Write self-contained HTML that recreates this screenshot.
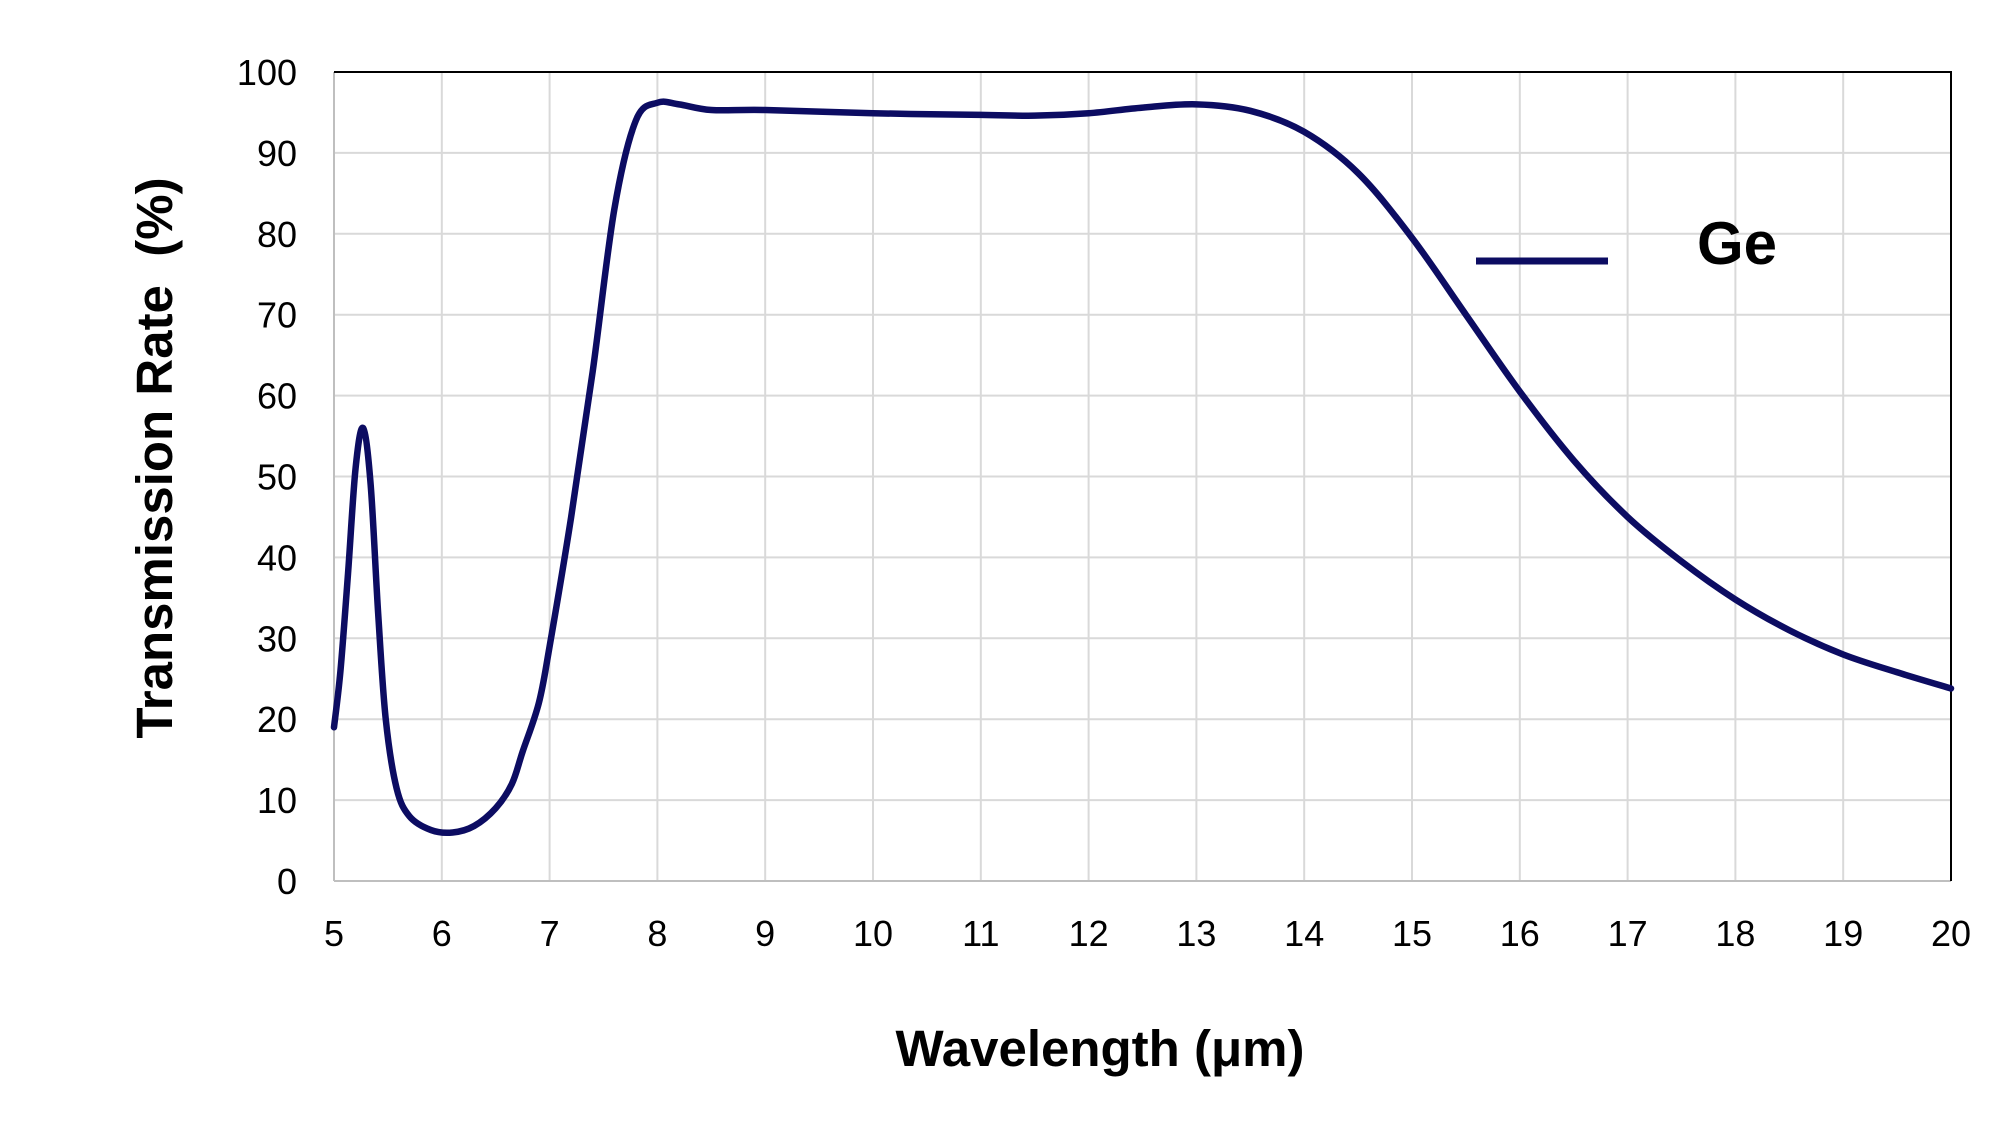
<!DOCTYPE html>
<html><head><meta charset="utf-8"><style>
html,body{margin:0;padding:0;background:#fff;}
svg{display:block;}
text{font-family:"Liberation Sans",sans-serif;}
</style></head><body>
<svg id="c" width="2013" height="1144" xmlns="http://www.w3.org/2000/svg">
<rect width="2013" height="1144" fill="#fff"/>
<g id="grid"></g>
<g id="labels" font-size="36" fill="#000"></g>
<path id="curve" fill="none" stroke="#0c0c62" stroke-width="6.5" stroke-linejoin="round" stroke-linecap="round"/>
<text x="1100" y="1066" font-size="51" font-weight="bold" text-anchor="middle">Wavelength (μm)</text>
<text transform="translate(172,458) rotate(-90)" font-size="51" font-weight="bold" text-anchor="middle" xml:space="preserve">Transmission Rate  (%)</text>
<line x1="1476" y1="261" x2="1608" y2="261" stroke="#0c0c62" stroke-width="7"/>
<text x="1697" y="264" font-size="60" font-weight="bold">Ge</text>
</svg>
<script>
var X0=334,X1=1951,Y0=881,Y1=72;
function px(w){return X0+(w-5)*(X1-X0)/15;}
function py(v){return Y0-v*(Y0-Y1)/100;}
var ns="http://www.w3.org/2000/svg",g=document.getElementById('grid'),lb=document.getElementById('labels');
function el(p,t,a){var e=document.createElementNS(ns,t);for(var k in a)e.setAttribute(k,a[k]);p.appendChild(e);return e;}
for(var i=6;i<20;i++)el(g,'line',{x1:px(i),x2:px(i),y1:Y1,y2:Y0,stroke:'#d9d9d9','stroke-width':2});
for(var j=10;j<100;j+=10)el(g,'line',{x1:X0,x2:X1,y1:py(j),y2:py(j),stroke:'#d9d9d9','stroke-width':2});
el(g,'line',{x1:X0,x2:X0,y1:Y1,y2:Y0,stroke:'#bfbfbf','stroke-width':2});
el(g,'line',{x1:X0,x2:X1,y1:Y0,y2:Y0,stroke:'#bfbfbf','stroke-width':2});
el(g,'line',{x1:X0,x2:X1+1,y1:Y1,y2:Y1,stroke:'#000','stroke-width':2});
el(g,'line',{x1:X1,x2:X1,y1:Y1,y2:Y0,stroke:'#000','stroke-width':2});
for(var i=5;i<=20;i++){var t=el(lb,'text',{x:px(i),y:946,'text-anchor':'middle'});t.textContent=i;}
for(var j=0;j<=100;j+=10){var t=el(lb,'text',{x:297,y:py(j)+13,'text-anchor':'end'});t.textContent=j;}
var d=[[5,19],[5.06,26],[5.13,38],[5.2,51],[5.27,56],[5.34,49],[5.41,33],[5.48,20],[5.58,11.5],[5.7,8],[5.9,6.3],[6.1,6],[6.3,6.8],[6.5,9],[6.65,12],[6.75,16],[6.9,22],[7,29],[7.2,45],[7.4,63],[7.6,83],[7.8,94],[8,96.2],[8.2,96],[8.5,95.3],[9,95.3],[10,94.9],[11,94.7],[11.5,94.6],[12,94.9],[12.5,95.6],[13,96],[13.5,95.2],[14,92.6],[14.5,87.5],[15,79.5],[15.5,70],[16,60.5],[16.5,52],[17,45],[17.5,39.5],[18,34.8],[18.5,31],[19,28],[19.5,25.8],[20,23.8]];
var p=d.map(function(a){return[px(a[0]),py(a[1])];});
var s='M'+p[0][0]+','+p[0][1];
for(var i=0;i<p.length-1;i++){var a=p[Math.max(i-1,0)],b=p[i],c=p[i+1],e=p[Math.min(i+2,p.length-1)];
s+=' C'+(b[0]+(c[0]-a[0])/6)+','+(b[1]+(c[1]-a[1])/6)+' '+(c[0]-(e[0]-b[0])/6)+','+(c[1]-(e[1]-b[1])/6)+' '+c[0]+','+c[1];}
document.getElementById('curve').setAttribute('d',s);
</script>
</body></html>
